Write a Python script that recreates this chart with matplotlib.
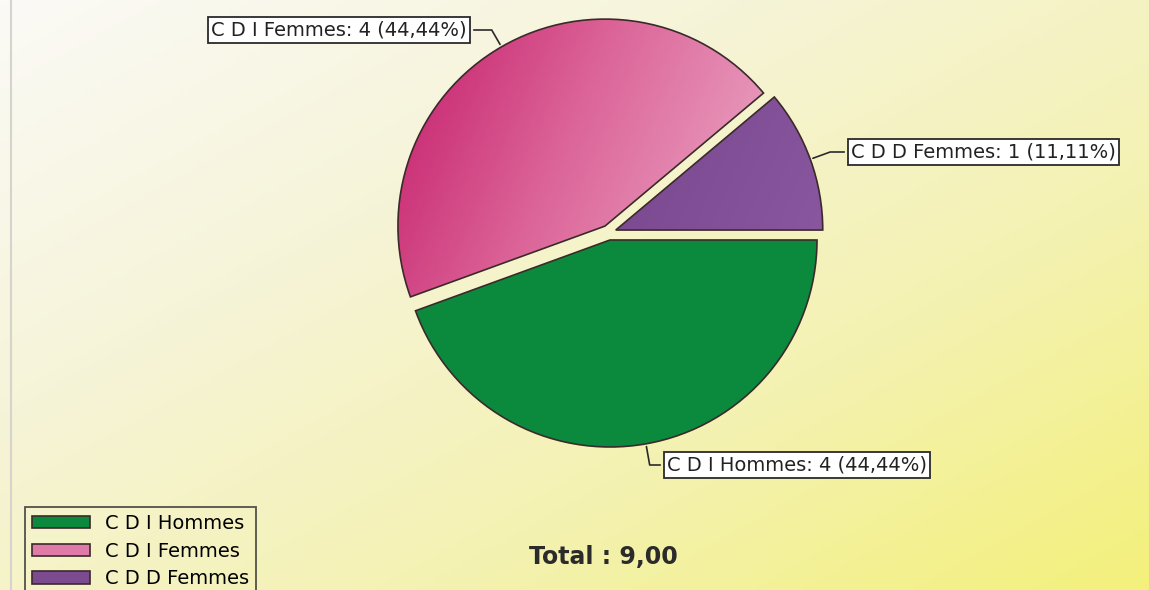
import numpy as np
import matplotlib.pyplot as plt
from matplotlib.colors import LinearSegmentedColormap

# données du graphique
categories = ['C D I Hommes', 'C D I Femmes', 'C D D Femmes']
effectifs = [4, 4, 1]
couleurs = ['#0b8a3d', '#e07aa8', '#7c4a8e']
total = sum(effectifs)

W, H = 1149, 590
fig = plt.figure(figsize=(W / 100, H / 100), dpi=100)

# fond dégradé (blanc cassé en haut à gauche -> jaune en bas à droite)
bg = fig.add_axes([0, 0, 1, 1])
bg.set_xlim(0, W)
bg.set_ylim(0, H)
bg.axis('off')
xx, yy = np.meshgrid(np.linspace(0, 1, 300), np.linspace(0, 1, 160))
t = np.clip(0.6 * xx + 0.55 * yy, 0, 1.15) / 1.15
fond = LinearSegmentedColormap.from_list('fond', ['#fbfaf6', '#f6f4d8', '#f4f2b2', '#f3f07c'])
bg.imshow(fond(t), extent=[0, W, 0, H], origin='upper', aspect='auto', zorder=0)
bg.axvline(11, color='#d4d4cc', lw=1.5, zorder=1)

# camembert : rayon 1 = 207 px
R = 207
cx, cy = 608.7, H - 232.6
half = 1.2 * R
ax = fig.add_axes([(cx - half) / W, (cy - half) / H, 2 * half / W, 2 * half / H])
explode = [7.5 / R] * 3
wedges, _ = ax.pie(effectifs, colors=couleurs, startangle=0, counterclock=False,
                   explode=explode, radius=1,
                   wedgeprops=dict(edgecolor='#3a2a2a', linewidth=1.2))
ax.set_xlim(-1.2, 1.2)
ax.set_ylim(-1.2, 1.2)
ax.axis('off')

# dégradé sur les parts roses et violettes
gx, gy = np.meshgrid(np.linspace(-1.2, 1.2, 200), np.linspace(1.2, -1.2, 200))
g = np.clip(0.5 + 0.55 * (gx * 0.8 - gy * 0.35), 0, 1)
rose = LinearSegmentedColormap.from_list('rose', ['#cc3479', '#dc6699', '#e690b6', '#eebdd1'])
im = ax.imshow(rose(g), extent=[-1.2, 1.2, -1.2, 1.2], zorder=wedges[1].get_zorder() + 0.1)
im.set_clip_path(wedges[1])
violet = LinearSegmentedColormap.from_list('violet', ['#6e3c82', '#8a58a0'])
im2 = ax.imshow(violet(g), extent=[-1.2, 1.2, -1.2, 1.2], zorder=wedges[2].get_zorder() + 0.1)
im2.set_clip_path(wedges[2])
for w in wedges[1:]:
    w.set_facecolor('none')
for w in wedges:
    w.set_zorder(w.get_zorder() + 0.2)

# étiquettes avec traits de rappel
positions = [(667, H - 465, 'left'), (467, H - 30, 'right'), (851, H - 152, 'left')]
for w, n, cat, (px, py, ha) in zip(wedges, effectifs, categories, positions):
    tm = np.deg2rad((w.theta1 + w.theta2) / 2)
    bord = (w.center[0] + w.r * np.cos(tm), w.center[1] + w.r * np.sin(tm))
    txt = f"{cat}: {n} ({100 * n / total:.2f}%)".replace('.', ',')
    ax.annotate(txt, xy=bord, xycoords='data', xytext=(px, py), textcoords='figure pixels',
                ha=ha, va='center', fontsize=14, family='DejaVu Sans', color='#222222',
                bbox=dict(boxstyle='square,pad=0.17', fc='white', ec='#2a2a2a', lw=1.3),
                arrowprops=dict(arrowstyle='-', color='#2a2a2a', lw=1.2,
                                relpos=(0 if ha == 'left' else 1, 0.5),
                                connectionstyle=f"angle,angleA=0,angleB={np.rad2deg(tm):.1f},rad=0"))

# légende
leg_handles = [plt.Rectangle((0, 0), 1, 1, fc=c, ec='#3a2a2a', lw=1.2) for c in couleurs]
leg = fig.legend(leg_handles, categories, loc='upper left',
                 bbox_to_anchor=(25 / W, 1 - 507 / H), bbox_transform=fig.transFigure,
                 prop={'family': 'DejaVu Sans', 'size': 14}, frameon=True, fancybox=False,
                 handlelength=3.0, handleheight=0.6, handletextpad=0.75, labelspacing=0.45,
                 borderpad=0.35, borderaxespad=0)
leg.get_frame().set_edgecolor('#2a2a2a')
leg.get_frame().set_facecolor('none')
leg.get_frame().set_linewidth(1.3)

fig.text(603 / W, 1 - 557 / H, f"Total : {total:.2f}".replace('.', ','), ha='center', va='center',
         fontsize=17, fontweight='bold', family='DejaVu Sans', color='#2b2b2b')

fig.savefig('out.png', dpi=100)
